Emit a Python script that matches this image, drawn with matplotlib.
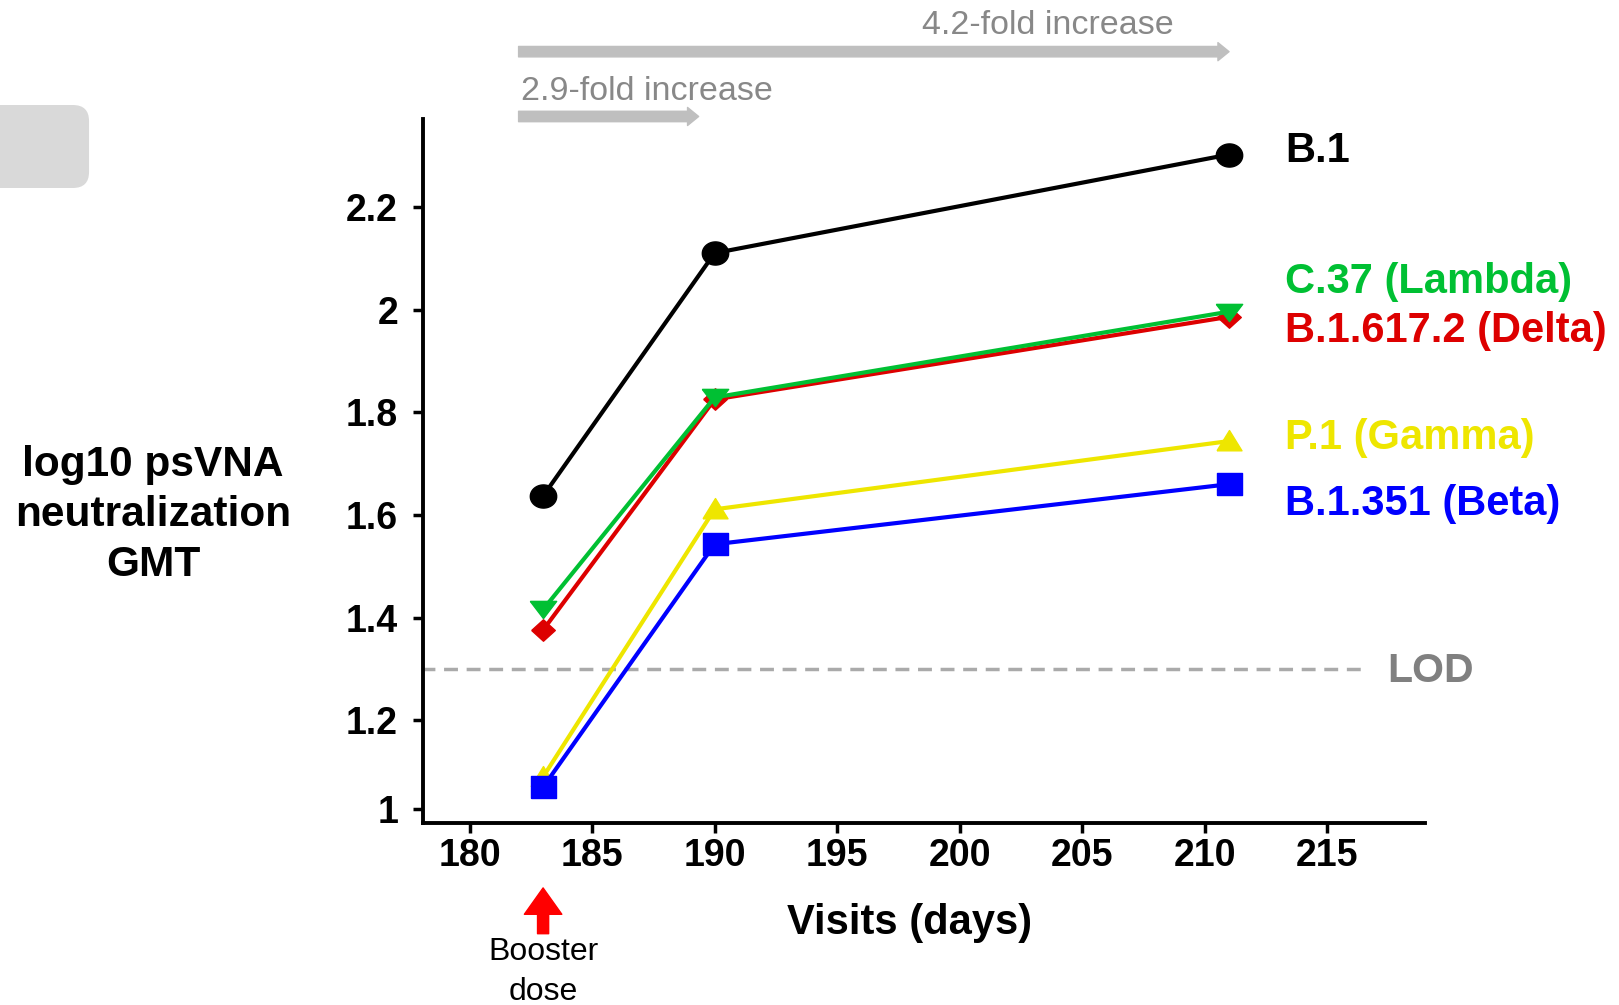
import numpy as np
import matplotlib
matplotlib.use("Agg")
import matplotlib.pyplot as plt
from matplotlib.patches import FancyBboxPatch

plt.rcParams['font.family'] = ['Liberation Sans', 'DejaVu Sans']

# data
days = [183, 190, 211]
b1 = [1.637, 2.110, 2.302]
lambda_c37 = [1.416, 1.829, 1.996]
delta = [1.376, 1.825, 1.986]
gamma_p1 = [1.090, 1.611, 1.744]
beta = [1.070, 1.543, 1.660]
lod = 1.3

names = ["B.1", "C.37 (Lambda)", "B.1.617.2 (Delta)", "P.1 (Gamma)", "B.1.351 (Beta)"]
colors = ["black", "#00C033", "#DD0000", "#EEE600", "#0000FF"]

xticks = [180, 185, 190, 195, 200, 205, 210, 215]
yticks = [1.0265, 1.2, 1.4, 1.6, 1.8, 2.0, 2.2]
ytick_labels = ["1", "1.2", "1.4", "1.6", "1.8", "2", "2.2"]

# stretched markers (the original figure was squashed vertically)
t = np.linspace(0, 2 * np.pi, 60)
m_circle = list(zip(1.14 * np.cos(t), np.sin(t)))
m_square = [(-1.14, -1), (1.14, -1), (1.14, 1), (-1.14, 1), (-1.14, -1)]
m_up = [(-1.14, -0.85), (1.14, -0.85), (0, 1.0), (-1.14, -0.85)]
m_down = [(-1.3, 0.8), (1.3, 0.8), (0, -0.9), (-1.3, 0.8)]
m_diamond = [(-1.1, 0), (0, 1), (1.1, 0), (0, -1), (-1.1, 0)]

fig = plt.figure(figsize=(16.19, 10.05), dpi=100)
ax = fig.add_axes([0.2613, 0.181, 0.6189, 0.701])

ax.plot(days, b1, color=colors[0], lw=3, marker=m_circle, ms=19, zorder=3)
ax.plot(days, delta, color=colors[2], lw=3, marker=m_diamond, ms=17, zorder=3)
ax.plot(days, lambda_c37, color=colors[1], lw=3, marker=m_down, ms=19, zorder=4)
ax.plot(days, gamma_p1, color=colors[3], lw=3, marker=m_up, ms=18, zorder=3)
ax.plot(days, beta, color=colors[4], lw=3, marker=m_square, ms=18, zorder=4)

ax.plot([178, 216.6], [lod, lod], color="#AAAAAA", lw=2.5, ls=(0, (4, 2.5)), zorder=1, clip_on=False)
ax.text(217.45, lod - 0.004, "LOD", color="#808080", fontsize=29.5, fontweight="bold",
        va="center", ha="left")

label_y = [2.309, 2.054, 1.958, 1.749, 1.622]
for name, c, y in zip(names, colors, label_y):
    ax.text(213.28, y, name, color=c, fontsize=30, fontweight="bold", va="center", ha="left")

ax.set_xlim(178.1, 219)
ax.set_ylim(1.0, 2.372)
ax.set_xticks(xticks)
ax.set_yticks(yticks)
ax.set_yticklabels(ytick_labels)
for lab in ax.get_xticklabels() + ax.get_yticklabels():
    lab.set_fontweight("bold")
ax.tick_params(axis="both", labelsize=27, width=2.5, length=7, direction="out")
ax.tick_params(axis="y", pad=11)
ax.tick_params(axis="x", pad=4)
for s in ["top", "right"]:
    ax.spines[s].set_visible(False)
for s in ["left", "bottom"]:
    ax.spines[s].set_linewidth(2.8)

ax.set_xlabel("Visits (days)", fontsize=30, fontweight="bold", va="center")
ax.xaxis.set_label_coords(0.486, -0.142)
ax.set_ylabel("log10 psVNA\nneutralization\nGMT", fontsize=30.5, fontweight="bold",
              rotation=0, va="center", ha="center", linespacing=1.33)
ax.yaxis.set_label_coords(-0.2695, 0.437)

# fold-increase arrows above the plot
xa = ax.get_xaxis_transform()
ax.annotate("", xy=(211.0, 1.095), xytext=(182.0, 1.095), xycoords=xa, textcoords=xa,
            arrowprops=dict(arrowstyle="simple,head_width=13,head_length=8,tail_width=7.5",
                            mutation_scale=1, color="#BFBFBF", shrinkA=0, shrinkB=0),
            annotation_clip=False)
ax.text(203.6, 1.132, "4.2-fold increase", transform=xa, color="#888888", fontsize=24.5,
        ha="center", va="center")
ax.annotate("", xy=(189.35, 1.003), xytext=(182.0, 1.003), xycoords=xa, textcoords=xa,
            arrowprops=dict(arrowstyle="simple,head_width=13,head_length=8,tail_width=7.5",
                            mutation_scale=1, color="#BFBFBF", shrinkA=0, shrinkB=0),
            annotation_clip=False)
ax.text(182.1, 1.039, "2.9-fold increase", transform=xa, color="#888888", fontsize=24.5,
        ha="left", va="center")

# booster dose arrow
ax.annotate("", xy=(183, -0.092), xytext=(183, -0.157), xycoords=xa, textcoords=xa,
            arrowprops=dict(arrowstyle="simple,head_width=27,head_length=19,tail_width=8",
                            mutation_scale=1, color="#FF0000", shrinkA=0, shrinkB=0),
            annotation_clip=False)
ax.text(183, -0.2115, "Booster\ndose", transform=xa, fontsize=23, ha="center", va="center",
        linespacing=1.42)

# grey rounded box at the top-left
fig.patches.append(FancyBboxPatch((-0.02, 1 - 188 / 1005), 0.075, 83 / 1005,
                                  boxstyle="round,pad=0,rounding_size=0.01",
                                  transform=fig.transFigure, facecolor="#D9D9D9",
                                  edgecolor="none", mutation_aspect=1.6))

fig.savefig("out.png", dpi=100)
